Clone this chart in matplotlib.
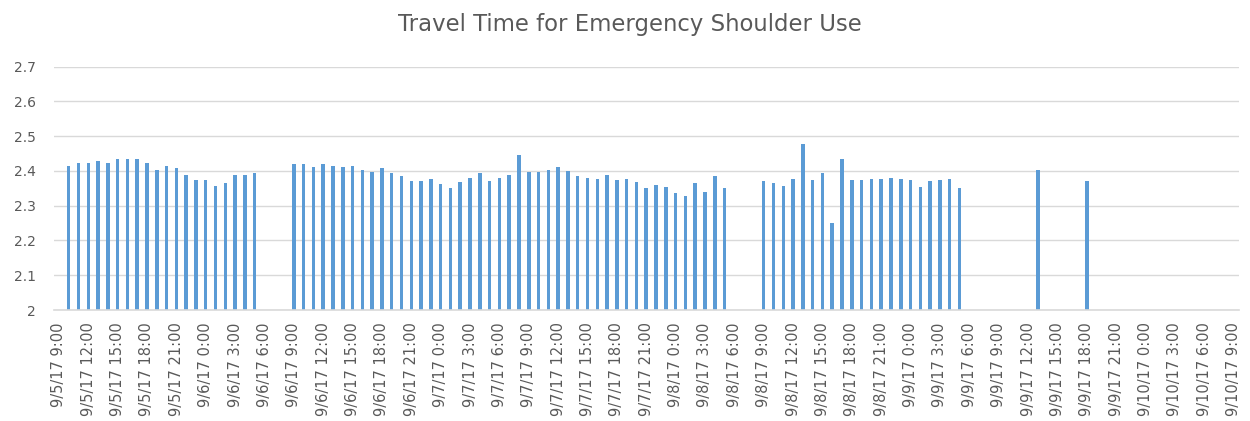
import matplotlib
matplotlib.use("Agg")
import numpy as np
import pandas as pd
import matplotlib.pyplot as plt

# hourly categories 9/5/17 9:00 .. 9/10/17 9:00, label on every 3rd one
hours = pd.date_range("2017-09-05 09:00", "2017-09-10 09:00", freq="h")
tick_labels = ["9/5/17 9:00", "9/5/17 12:00", "9/5/17 15:00", "9/5/17 18:00", "9/5/17 21:00",
               "9/6/17 0:00", "9/6/17 3:00", "9/6/17 6:00", "9/6/17 9:00", "9/6/17 12:00",
               "9/6/17 15:00", "9/6/17 18:00", "9/6/17 21:00", "9/7/17 0:00", "9/7/17 3:00",
               "9/7/17 6:00", "9/7/17 9:00", "9/7/17 12:00", "9/7/17 15:00", "9/7/17 18:00",
               "9/7/17 21:00", "9/8/17 0:00", "9/8/17 3:00", "9/8/17 6:00", "9/8/17 9:00",
               "9/8/17 12:00", "9/8/17 15:00", "9/8/17 18:00", "9/8/17 21:00", "9/9/17 0:00",
               "9/9/17 3:00", "9/9/17 6:00", "9/9/17 9:00", "9/9/17 12:00", "9/9/17 15:00",
               "9/9/17 18:00", "9/9/17 21:00", "9/10/17 0:00", "9/10/17 3:00", "9/10/17 6:00",
               "9/10/17 9:00"]

N = None
# travel time, one value per hour (None = no data)
travel_time = [
    # 9/5 9:00 - 23:00
    N, 2.415, 2.424, 2.424, 2.428, 2.422, 2.435, 2.435, 2.435, 2.422, 2.404, 2.414, 2.408, 2.389, 2.375,
    # 9/6 0:00 - 23:00
    2.375, 2.357, 2.364, 2.389, 2.389, 2.393, N, N, N, 2.421, 2.421, 2.412,
    2.421, 2.414, 2.412, 2.414, 2.404, 2.397, 2.408, 2.393, 2.385, 2.371, 2.371, 2.378,
    # 9/7 0:00 - 23:00
    2.363, 2.350, 2.367, 2.381, 2.393, 2.371, 2.381, 2.388, 2.445, 2.397, 2.397, 2.404,
    2.412, 2.400, 2.385, 2.381, 2.378, 2.388, 2.375, 2.378, 2.367, 2.350, 2.360, 2.354,
    # 9/8 0:00 - 23:00
    2.336, 2.328, 2.364, 2.339, 2.385, 2.350, N, N, N, 2.371, 2.364, 2.357,
    2.378, 2.477, 2.375, 2.393, 2.250, 2.435, 2.375, 2.375, 2.378, 2.378, 2.381, 2.378,
    # 9/9 0:00 - 23:00
    2.374, 2.354, 2.371, 2.374, 2.378, 2.350, N, N, N, N, N, N,
    N, 2.404, N, N, N, N, 2.371, N, N, N, N, N,
    # 9/10 0:00 - 9:00
    N, N, N, N, N, N, N, N, N, N,
]

vals = np.array([np.nan if v is None else v for v in travel_time])
x = np.arange(len(hours))
has = ~np.isnan(vals)

fig = plt.figure(figsize=(12.5, 4.21), dpi=100)
ax = fig.add_axes([54 / 1250, 1 - 310 / 421, (1238.5 - 54) / 1250, (310 - 66.7) / 421])

ax.bar(x[has], vals[has], width=0.36, color="#5B9BD5", zorder=3)

ax.set_ylim(2, 2.7)
ax.set_yticks(np.arange(2, 2.71, 0.1))
ax.set_yticklabels(["2", "2.1", "2.2", "2.3", "2.4", "2.5", "2.6", "2.7"])
ax.set_xlim(-0.5, len(hours) - 0.5)
ax.set_xticks(x[::3])
ax.set_xticklabels(tick_labels, rotation=90, va="top", ha="center")

ax.grid(axis="y", color="#D9D9D9", linewidth=1.0, zorder=0)
for s in ["top", "right", "left"]:
    ax.spines[s].set_visible(False)
ax.spines["bottom"].set_color("#D9D9D9")
ax.spines["bottom"].set_linewidth(1.2)
ax.spines["bottom"].set_zorder(4)

ax.tick_params(axis="x", length=0, pad=9, labelsize=10.5, labelcolor="#595959")
ax.tick_params(axis="y", length=0, pad=13, labelsize=10, labelcolor="#595959")

fig.text(630 / 1250, 1 - 24 / 421, "Travel Time for Emergency Shoulder Use",
         ha="center", va="center", fontsize=16.4, color="#595959")

fig.savefig("out.png", dpi=100)
